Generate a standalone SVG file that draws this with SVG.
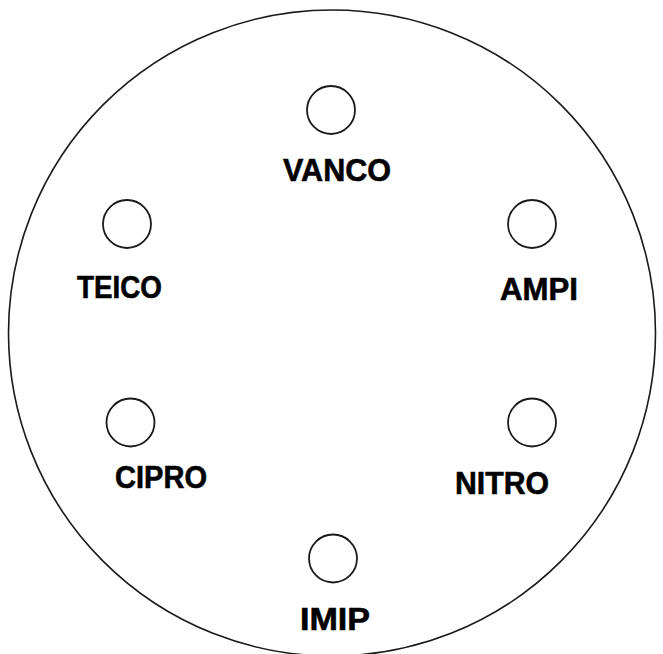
<svg xmlns="http://www.w3.org/2000/svg" width="663" height="654" viewBox="0 0 663 654">
<style>
.ring{fill:#fff;stroke:#1a1a1a;stroke-width:1.6}
.dot{fill:#fff;stroke:#1a1a1a;stroke-width:1.8}
.lbl{font-family:"Liberation Sans",Arial,sans-serif;font-weight:bold;font-size:32px;fill:#000;stroke:#000;stroke-width:0.6}
</style>
<rect width="663" height="654" fill="#fff"/>
<g id="plate"><ellipse class="ring" cx="332" cy="333" rx="323.5" ry="323"/></g>
<g id="connectors"></g>
<g id="vanco"><circle class="dot" cx="331" cy="110" r="24"/><text class="lbl" x="283" y="181" textLength="108" lengthAdjust="spacingAndGlyphs">VANCO</text></g>
<g id="teico"><circle class="dot" cx="127" cy="224" r="24"/><text class="lbl" x="77" y="298" textLength="85" lengthAdjust="spacingAndGlyphs">TEICO</text></g>
<g id="ampi"><circle class="dot" cx="532" cy="224" r="24"/><text class="lbl" x="500" y="300" textLength="78" lengthAdjust="spacingAndGlyphs">AMPI</text></g>
<g id="cipro"><circle class="dot" cx="130.5" cy="422.5" r="24"/><text class="lbl" x="115" y="488" textLength="92" lengthAdjust="spacingAndGlyphs">CIPRO</text></g>
<g id="nitro"><circle class="dot" cx="532" cy="422.5" r="24"/><text class="lbl" x="455" y="494" textLength="94" lengthAdjust="spacingAndGlyphs">NITRO</text></g>
<g id="imip"><circle class="dot" cx="333" cy="558.5" r="24"/><text class="lbl" x="300" y="630" textLength="70" lengthAdjust="spacingAndGlyphs">IMIP</text></g>
</svg>
